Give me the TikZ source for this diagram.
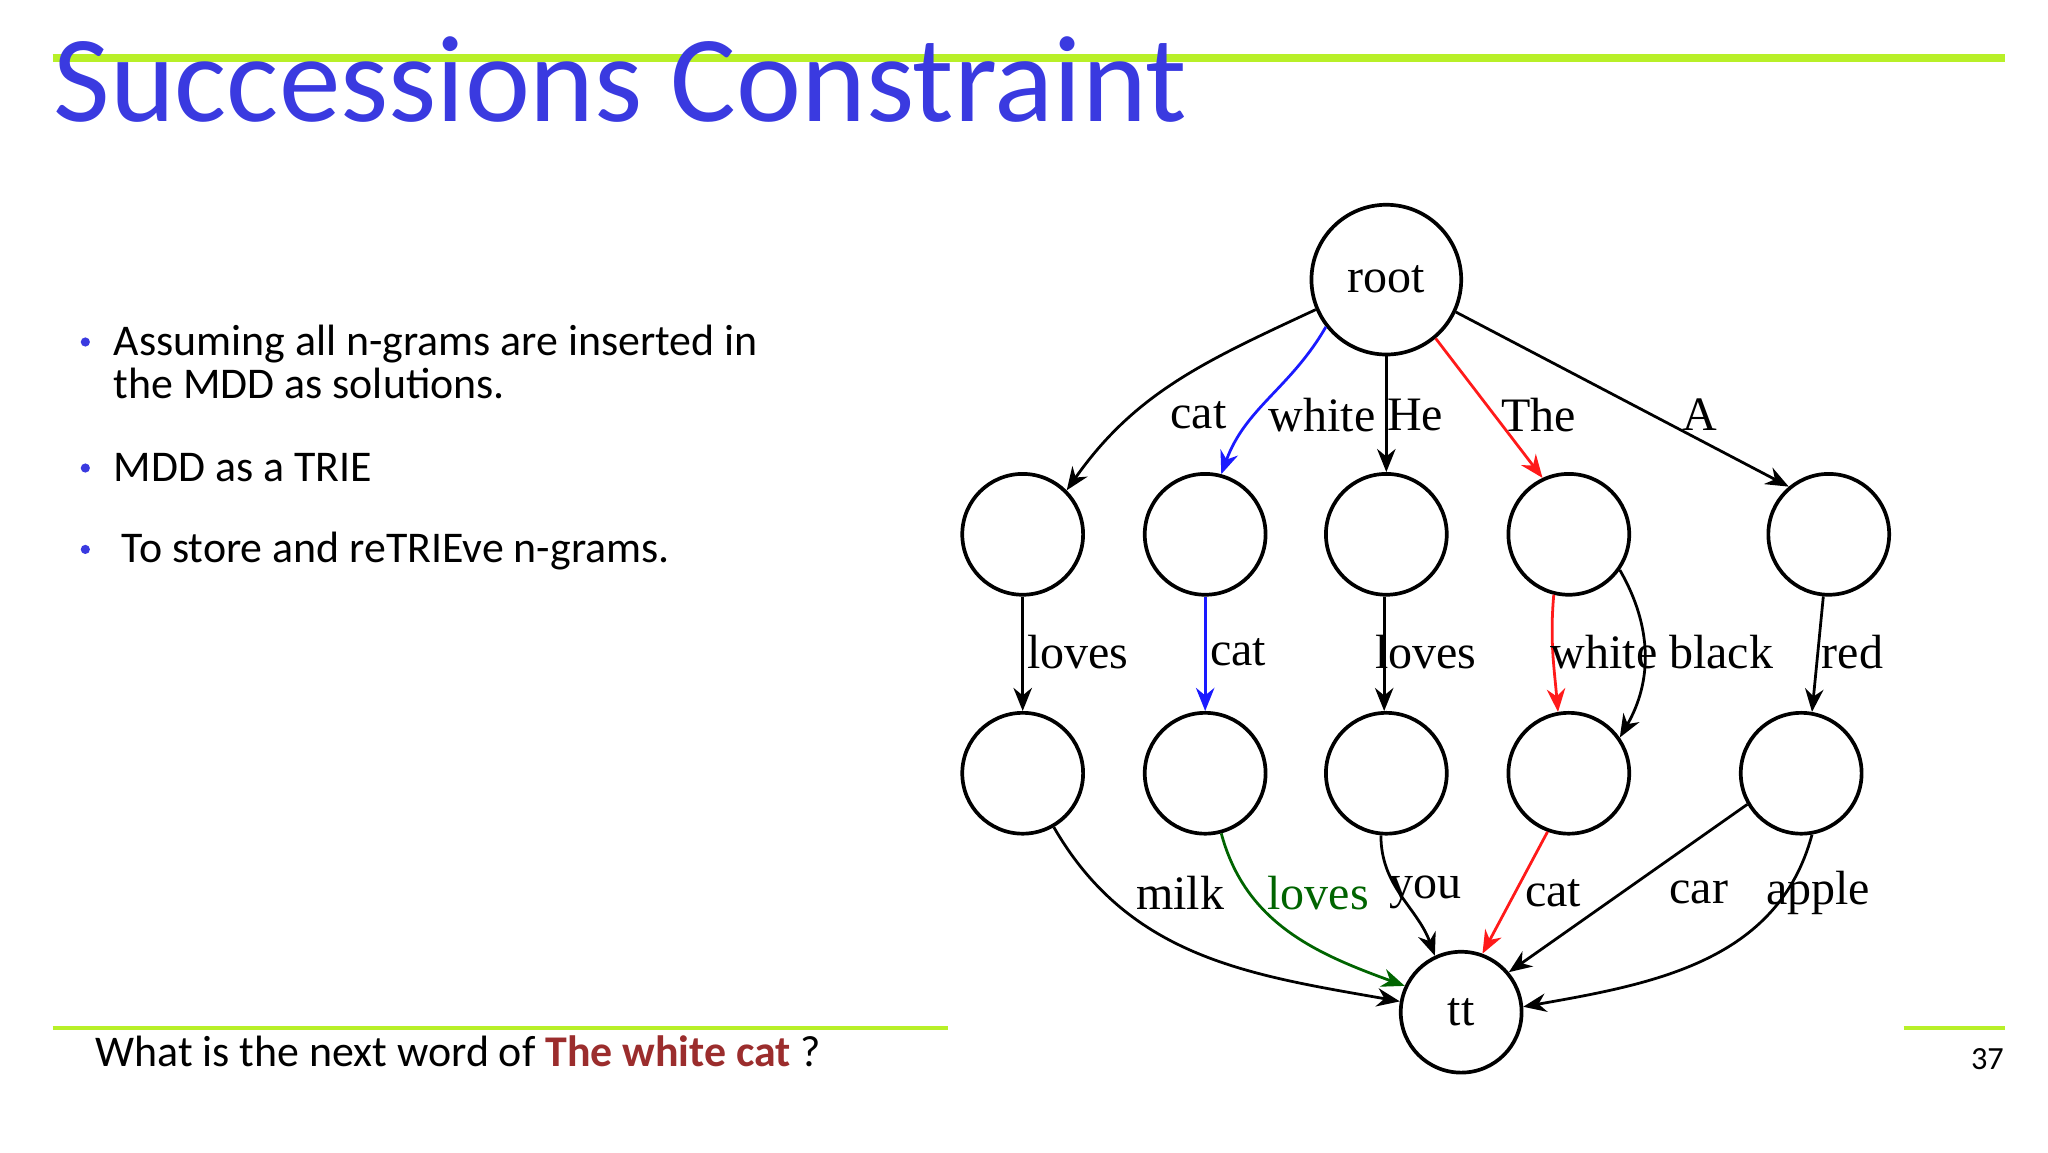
\documentclass[tikz,border=0pt]{standalone}
\usepackage{fontspec}
\setmainfont{Carlito}
\newfontfamily\gfont{Liberation Serif}
\usetikzlibrary{arrows.meta}
\definecolor{ttl}{HTML}{3A3AE0}
\definecolor{gline}{HTML}{B8F028}
\definecolor{qred}{HTML}{9B2D2D}
\definecolor{eblue}{HTML}{1A1AFF}
\definecolor{ered}{HTML}{FF1A1A}
\definecolor{egreen}{HTML}{006400}
\tikzset{
  st/.style={circle,draw,line width=0.8pt,minimum size=0.92cm,inner sep=0pt,font=\gfont\fontsize{10.4}{12}\selectfont},
  big/.style={st,minimum size=1.14cm},
  ed/.style={line width=0.6pt,-{Stealth[length=5pt,width=4pt]}},
  lb/.style={font=\gfont\fontsize{10.4}{12}\selectfont,inner sep=0pt},
  txt/.style={font=\fontsize{9.5}{11}\selectfont,anchor=base west,inner sep=0pt},
  dot/.style={circle,fill=ttl,inner sep=0pt,minimum size=0.07cm}
}
\begin{document}
\begin{tikzpicture}[x=0.01cm,y=0.01cm]
\useasboundingbox (0,0) rectangle (1560,877.5);
\draw[gline,line width=1.7pt] (40,833.5) -- (1527,833.5);
\draw[gline,line width=0.8pt] (40,94.5) -- (722,94.5);
\draw[gline,line width=0.8pt] (1450,94.5) -- (1527,94.5);
\node[anchor=base west,inner sep=0pt,text=ttl,font=\fontsize{26.7}{30}\selectfont] (title) at (40,785) {Successions Constraint};
\node[dot] (d1) at (65,617) {};
\node[txt] (b1) at (86,607) {Assuming all n-grams are inserted in};
\node[txt] (b1b) at (86,574) {the MDD as solutions.};
\node[dot] (d2) at (65,521) {};
\node[txt] (b2) at (86,511) {MDD as a TRIE};
\node[dot] (d3) at (65,459) {};
\node[txt] (b3) at (92,449) {To store and reTRIEve n-grams.};
\node[txt] (q) at (72,65) {What is the next word of \textcolor{qred}{\bfseries The white cat} ?};
\node[anchor=base east,inner sep=0pt,font=\fontsize{7}{8}\selectfont] (pg) at (1527,63) {37};

\node[big] (root) at (1056,664.5) {root};
\node[st] (a1) at (779,470.5) {};
\node[st] (b1n) at (918,470.5) {};
\node[st] (c1) at (1056,470.5) {};
\node[st] (d1n) at (1195,470.5) {};
\node[st] (e1) at (1393,470.5) {};
\node[st] (a2) at (779,288.5) {};
\node[st] (b2n) at (918,288.5) {};
\node[st] (c2) at (1056,288.5) {};
\node[st] (d2n) at (1195,288.5) {};
\node[st] (e2) at (1372,288.5) {};
\node[st] (tt) at (1113,106.5) {tt};

\draw[ed] (root.203) to[out=205,in=55] (a1.45);
\draw[ed,eblue] (root.218) to[out=240,in=70] (b1n.75);
\draw[ed] (root.270) -- (c1.90);
\draw[ed,ered] (root.310) -- (d1n.115);
\draw[ed] (root.335) -- (e1.130);
\node[lb] (l1) at (913,561.5) {cat};
\node[lb] (l2) at (1007,561.5) {white};
\node[lb] (l3) at (1078,561.5) {He};
\node[lb] (l4) at (1172,561.5) {The};
\node[lb] (l5) at (1295,561.5) {A};

\draw[ed] (a1) -- (a2);
\draw[ed,eblue] (b1n) -- (b2n);
\draw[ed] (c1.268) -- (c2.92);
\draw[ed,ered] (d1n.256) to[out=265,in=95] (d2n.100);
\draw[ed] (d1n.-35) to[out=-60,in=60] (d2n.35);
\draw[ed] (e1.265) -- (e2.80);
\node[lb] (m1) at (821,380.5) {loves};
\node[lb] (m2) at (943,380.5) {cat};
\node[lb] (m3) at (1086,380.5) {loves};
\node[lb] (m4) at (1222,380.5) {white};
\node[lb] (m5) at (1311,380.5) {black};
\node[lb] (m6) at (1411,380.5) {red};

\draw[ed] (a2.-60) to[out=-60,in=170] (tt.170);
\draw[ed,egreen] (b2n.-75) to[out=-75,in=160] (tt.155);
\draw[ed] (c2.-95) to[out=-90,in=110] (tt.115);
\draw[ed,ered] (d2n.-110) -- (tt.70);
\draw[ed] (e2.-150) -- (tt.40);
\draw[ed] (e2.-80) to[out=-105,in=10] (tt.5);
\node[lb] (n1) at (899,197.5) {milk};
\node[lb,text=egreen] (n2) at (1004,197.5) {loves};
\node[lb] (n3) at (1086,197.5) {you};
\node[lb] (n4) at (1183,197.5) {cat};
\node[lb] (n5) at (1294,197.5) {car};
\node[lb] (n6) at (1385,197.5) {apple};
\end{tikzpicture}
\end{document}
